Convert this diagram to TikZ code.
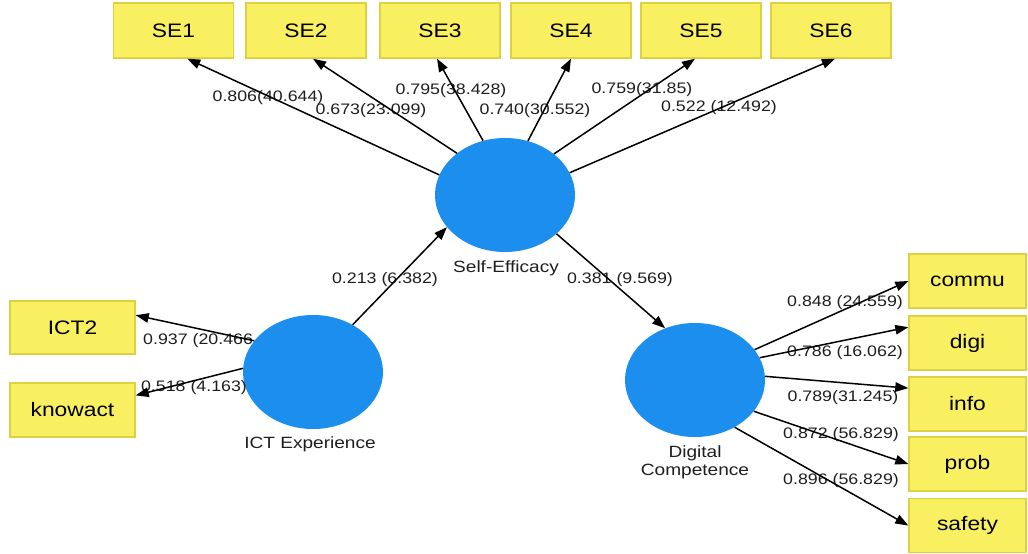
\documentclass[tikz,border=0pt]{standalone}
\usepackage{fontspec}
\setmainfont{Liberation Sans}[FakeStretch=1.17]
\usepackage{tikz}
\usetikzlibrary{ arrows.meta, % For the arrow heads
                 shapes,      % For ellipse and so
               }
\definecolor{boxyellow}{RGB}{248,240,96}
\definecolor{boxedge}{RGB}{222,208,64}
\definecolor{latentblue}{RGB}{28,142,238}
\definecolor{labelgray}{RGB}{30,30,30}

\begin{document}
\begin{tikzpicture}[x=1pt, y=-1pt,
  indicator/.style={draw=boxedge, fill=boxyellow, line width=1.4pt,
    minimum width=120pt, minimum height=55pt, inner sep=0pt,
    font=\fontsize{19.5}{19}\selectfont},
  latent/.style={ellipse, fill=latentblue, minimum width=140pt,
    minimum height=114pt, inner sep=0pt},
  loading/.style={font=\fontsize{15.2}{15}\selectfont, inner sep=0pt, text=labelgray},
  latent_name/.style={font=\fontsize{16.3}{18}\selectfont, inner sep=0pt,
    align=center, text=labelgray},
  path_arr/.style={-{Triangle[length=13pt,width=9.5pt]}, line width=1.5pt},
]
  \useasboundingbox (0,0) rectangle (1028,554);

  % self-efficacy items
  \node[indicator] (se1) at (173.5,30.5) {SE1};
  \node[indicator] (se2) at (306,30.5) {SE2};
  \node[indicator] (se3) at (440,30.5) {SE3};
  \node[indicator] (se4) at (571,30.5) {SE4};
  \node[indicator] (se5) at (701,30.5) {SE5};
  \node[indicator] (se6) at (831,30.5) {SE6};

  \node[indicator, minimum width=125pt, minimum height=53pt] (ict2) at (72.5,327.5) {ICT2};
  \node[indicator, minimum width=125pt, minimum height=54pt] (knowact) at (72.5,410) {knowact};

  \node[indicator, minimum width=117pt, minimum height=54pt] (commu) at (967.5,281) {commu};
  \node[indicator, minimum width=117pt, minimum height=54pt] (digi) at (967.5,343) {digi};
  \node[indicator, minimum width=117pt, minimum height=54pt] (info) at (967.5,404) {info};
  \node[indicator, minimum width=117pt, minimum height=54pt] (prob) at (967.5,464) {prob};
  \node[indicator, minimum width=117pt, minimum height=54pt] (safety) at (967.5,525.5) {safety};

  % latent variables
  \node[latent] (self_eff) at (505,195) {};
  \node[latent] (ict_exp) at (313,372) {};
  \node[latent] (dig_comp) at (695,380) {};

  \node[latent_name] (self_eff_name) at (506,268) {Self-Efficacy};
  \node[latent_name] (ict_exp_name) at (310,444) {ICT Experience};
  \node[latent_name] (dig_comp_name) at (695,462) {Digital\\Competence};

  % loadings
  \node[loading] (l_se1) at (268,98) {0.806(40.644)};
  \node[loading] (l_se2) at (371,111) {0.673(23.099)};
  \node[loading] (l_se3) at (451,91) {0.795(38.428)};
  \node[loading] (l_se4) at (535,111) {0.740(30.552)};
  \node[loading] (l_se5) at (642,90) {0.759(31.85)};
  \node[loading] (l_se6) at (719,108) {0.522 (12.492)};
  \node[loading] (l_ict_eff) at (385,280) {0.213 (6.382)};
  \node[loading] (l_eff_dc) at (620,280) {0.381 (9.569)};
  \node[loading, anchor=west] (l_ict2) at (143,341) {0.937 (20.466};
  \node[loading] (l_knowact) at (194,388) {0.518 (4.163)};
  \node[loading] (l_commu) at (845,303) {0.848 (24.559)};
  \node[loading] (l_digi) at (845,353) {0.786 (16.062)};
  \node[loading] (l_info) at (843,398) {0.789(31.245)};
  \node[loading] (l_prob) at (841,435) {0.872 (56.829)};
  \node[loading] (l_safety) at (841,481) {0.896 (56.829)};

  \draw[path_arr] (self_eff.163) -- (se1.296);
  \draw[path_arr] (self_eff.139) -- (se2.284);
  \draw[path_arr] (self_eff.112) -- (se3.264);
  \draw[path_arr] (self_eff.67) -- (se4.south);
  \draw[path_arr] (self_eff.40) -- (se5.258);
  \draw[path_arr] (self_eff.19) -- (se6.278);

  \draw[path_arr] (ict_exp.50) -- (self_eff.209);
  \draw[path_arr] (self_eff.323) -- (dig_comp.120);

  \draw[path_arr] (ict_exp.152) -- (ict2.11);
  \draw[path_arr] (ict_exp.177) -- (knowact.13);

  \draw[path_arr] (dig_comp.27) -- (commu.west);
  \draw[path_arr] (dig_comp.19) -- (digi.165);
  \draw[path_arr] (dig_comp.3) -- (info.165);
  \draw[path_arr] (dig_comp.-28) -- (prob.west);
  \draw[path_arr] (dig_comp.-50) -- (safety.west);

\end{tikzpicture}
\end{document}
